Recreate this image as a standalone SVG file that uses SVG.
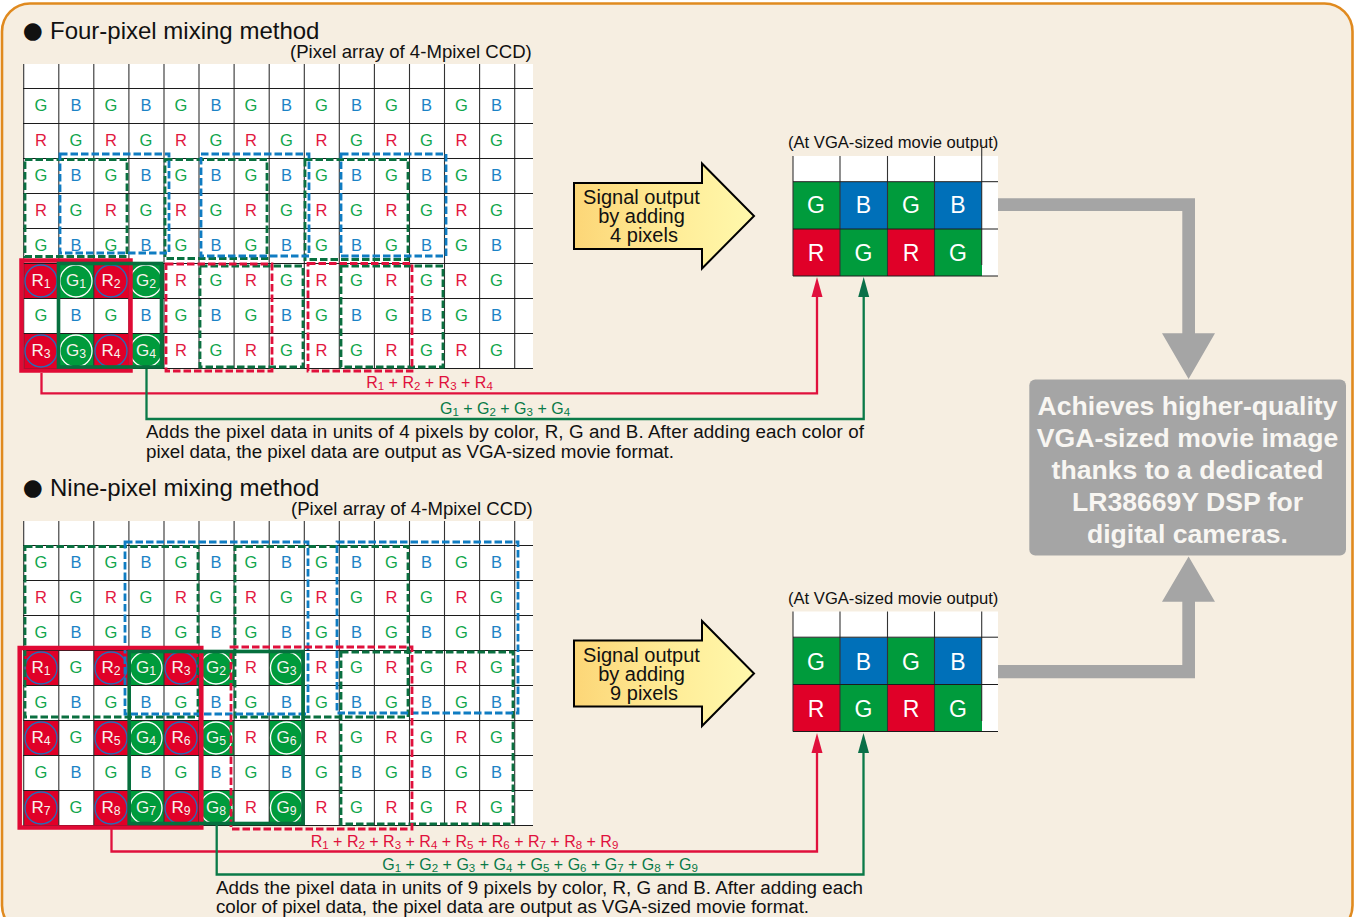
<svg xmlns="http://www.w3.org/2000/svg" width="1354" height="917" viewBox="0 0 1354 917">
<style>
text{font-family:"Liberation Sans",Arial,sans-serif}
.g,.b,.r,.w{font-size:16.5px;text-anchor:middle}
.g{fill:#10a64c}.b{fill:#1c83c6}.r{fill:#e2173f}.w{fill:#f7f3ee;font-size:17px}
.o{font-size:23px;text-anchor:middle;fill:#fff}
.sub{font-size:.72em;baseline-shift:-2px}
.gl{stroke:#1c1c1c;stroke-width:1;fill:none}
.vl{stroke:#333;stroke-width:1.1;fill:none}
.fr{fill:#e00028}.fg{fill:#009b3c}.fb{fill:#0070b9}.fw{fill:#fff}
.cr{fill:none;stroke:#1f70bd;stroke-width:1.3}
.cg{fill:none;stroke:#fff;stroke-width:1.3}
.dg,.db,.dr{fill:none;stroke-width:2.8;stroke-dasharray:7.5 3}
.dg{stroke:#0a7040}.db{stroke:#0f7cc2}.dr{stroke:#e0103c}
.sr{fill:none;stroke:#e00a35;stroke-width:4.5}
.sg{fill:none;stroke:#06703e;stroke-width:3.6}
.cnr{fill:none;stroke:#e0103c;stroke-width:2.3}
.cng{fill:none;stroke:#0a7a48;stroke-width:2.3}
.lr{font-size:16px;fill:#e0103c;text-anchor:middle}
.lg{font-size:16px;fill:#0a7a48;text-anchor:middle}
.t{font-size:24px;fill:#111}
.bu{font-size:23px;fill:#111;font-family:"DejaVu Sans",sans-serif}
.n{font-size:18.6px;fill:#111}
.m{font-size:16.6px;fill:#111}
.d{font-size:18.8px;fill:#111}
.a{font-size:20px;fill:#111;text-anchor:middle}
.big{fill:url(#yel);stroke:#000;stroke-width:2}
.q{font-size:26.6px;font-weight:bold;fill:#f8f6f2;text-anchor:middle}
</style>
<defs>
<linearGradient id="yel" x1="0" y1="0" x2="1" y2="0"><stop offset="0" stop-color="#fcd677"/><stop offset=".6" stop-color="#ffee9a"/><stop offset="1" stop-color="#fff8ac"/></linearGradient>
<marker id="ar" markerUnits="userSpaceOnUse" markerWidth="20" markerHeight="12" viewBox="0 0 20 12" refX="0" refY="6" orient="auto"><path d="M0 .5L20 6L0 11.5Z" fill="#e0103c"/></marker>
<marker id="ag" markerUnits="userSpaceOnUse" markerWidth="20" markerHeight="12" viewBox="0 0 20 12" refX="0" refY="6" orient="auto"><path d="M0 .5L20 6L0 11.5Z" fill="#0a7048"/></marker>
</defs>
<rect id="panel" x="2" y="3.5" width="1350.5" height="930" rx="28" ry="28" fill="#f6eee1" stroke="#e08a1f" stroke-width="2.6"/>

<g id="heading-four"><text class="bu" x="22.8" y="37.8">●</text><text class="t" x="50" y="39">Four-pixel mixing method</text><text class="n" x="290" y="58">(Pixel array of 4-Mpixel CCD)</text></g>
<g id="heading-nine"><text class="bu" x="22.8" y="494.8">●</text><text class="t" x="50" y="496">Nine-pixel mixing method</text><text class="n" x="291" y="515">(Pixel array of 4-Mpixel CCD)</text></g>

<g id="pixel-array-four">
<rect class="fw" x="23" y="64" width="510" height="305"/>
<g id="four-highlight-cells">
<rect class="fr" x="24" y="264" width="35" height="35"/><rect class="fg" x="59" y="264" width="35" height="35"/><rect class="fr" x="94" y="264" width="35" height="35"/><rect class="fg" x="129" y="264" width="35" height="35"/>
<rect class="fr" x="24" y="334" width="35" height="35"/><rect class="fg" x="59" y="334" width="35" height="35"/><rect class="fr" x="94" y="334" width="35" height="35"/><rect class="fg" x="129" y="334" width="35" height="35"/>
</g>
<path class="vl" d="M23.7 64V369M58.8 64V369M93.8 64V369M128.9 64V369M164 64V369M199 64V369M234.1 64V369M269.2 64V369M304.3 64V369M339.3 64V369M374.4 64V369M409.5 64V369M444.5 64V369M479.6 64V369M514.7 64V369"/>
<path class="gl" d="M23 88.5H533M23 123.5H533M23 158.5H533M23 193.5H533M23 228.5H533M23 263.5H533M23 298.5H533M23 333.5H533M23 368.5H533"/>
<g id="four-letters" transform="translate(0 -.5)">
<text class="g" x="41" y="111">G</text><text class="b" x="76" y="111">B</text><text class="g" x="111" y="111">G</text><text class="b" x="146" y="111">B</text><text class="g" x="181" y="111">G</text><text class="b" x="216" y="111">B</text><text class="g" x="251" y="111">G</text><text class="b" x="286.5" y="111">B</text><text class="g" x="321.5" y="111">G</text><text class="b" x="356.5" y="111">B</text><text class="g" x="391.5" y="111">G</text><text class="b" x="426.5" y="111">B</text><text class="g" x="461.5" y="111">G</text><text class="b" x="496.5" y="111">B</text>
<text class="r" x="41" y="146">R</text><text class="g" x="76" y="146">G</text><text class="r" x="111" y="146">R</text><text class="g" x="146" y="146">G</text><text class="r" x="181" y="146">R</text><text class="g" x="216" y="146">G</text><text class="r" x="251" y="146">R</text><text class="g" x="286.5" y="146">G</text><text class="r" x="321.5" y="146">R</text><text class="g" x="356.5" y="146">G</text><text class="r" x="391.5" y="146">R</text><text class="g" x="426.5" y="146">G</text><text class="r" x="461.5" y="146">R</text><text class="g" x="496.5" y="146">G</text>
<text class="g" x="41" y="181">G</text><text class="b" x="76" y="181">B</text><text class="g" x="111" y="181">G</text><text class="b" x="146" y="181">B</text><text class="g" x="181" y="181">G</text><text class="b" x="216" y="181">B</text><text class="g" x="251" y="181">G</text><text class="b" x="286.5" y="181">B</text><text class="g" x="321.5" y="181">G</text><text class="b" x="356.5" y="181">B</text><text class="g" x="391.5" y="181">G</text><text class="b" x="426.5" y="181">B</text><text class="g" x="461.5" y="181">G</text><text class="b" x="496.5" y="181">B</text>
<text class="r" x="41" y="216">R</text><text class="g" x="76" y="216">G</text><text class="r" x="111" y="216">R</text><text class="g" x="146" y="216">G</text><text class="r" x="181" y="216">R</text><text class="g" x="216" y="216">G</text><text class="r" x="251" y="216">R</text><text class="g" x="286.5" y="216">G</text><text class="r" x="321.5" y="216">R</text><text class="g" x="356.5" y="216">G</text><text class="r" x="391.5" y="216">R</text><text class="g" x="426.5" y="216">G</text><text class="r" x="461.5" y="216">R</text><text class="g" x="496.5" y="216">G</text>
<text class="g" x="41" y="251">G</text><text class="b" x="76" y="251">B</text><text class="g" x="111" y="251">G</text><text class="b" x="146" y="251">B</text><text class="g" x="181" y="251">G</text><text class="b" x="216" y="251">B</text><text class="g" x="251" y="251">G</text><text class="b" x="286.5" y="251">B</text><text class="g" x="321.5" y="251">G</text><text class="b" x="356.5" y="251">B</text><text class="g" x="391.5" y="251">G</text><text class="b" x="426.5" y="251">B</text><text class="g" x="461.5" y="251">G</text><text class="b" x="496.5" y="251">B</text>
<text class="r" x="181" y="286">R</text><text class="g" x="216" y="286">G</text><text class="r" x="251" y="286">R</text><text class="g" x="286.5" y="286">G</text><text class="r" x="321.5" y="286">R</text><text class="g" x="356.5" y="286">G</text><text class="r" x="391.5" y="286">R</text><text class="g" x="426.5" y="286">G</text><text class="r" x="461.5" y="286">R</text><text class="g" x="496.5" y="286">G</text>
<text class="g" x="41" y="321">G</text><text class="b" x="76" y="321">B</text><text class="g" x="111" y="321">G</text><text class="b" x="146" y="321">B</text><text class="g" x="181" y="321">G</text><text class="b" x="216" y="321">B</text><text class="g" x="251" y="321">G</text><text class="b" x="286.5" y="321">B</text><text class="g" x="321.5" y="321">G</text><text class="b" x="356.5" y="321">B</text><text class="g" x="391.5" y="321">G</text><text class="b" x="426.5" y="321">B</text><text class="g" x="461.5" y="321">G</text><text class="b" x="496.5" y="321">B</text>
<text class="r" x="181" y="356">R</text><text class="g" x="216" y="356">G</text><text class="r" x="251" y="356">R</text><text class="g" x="286.5" y="356">G</text><text class="r" x="321.5" y="356">R</text><text class="g" x="356.5" y="356">G</text><text class="r" x="391.5" y="356">R</text><text class="g" x="426.5" y="356">G</text><text class="r" x="461.5" y="356">R</text><text class="g" x="496.5" y="356">G</text>
</g>
<g id="four-circles">
<circle class="cr" cx="41" cy="281" r="16"/><circle class="cg" cx="76" cy="281" r="16"/><circle class="cr" cx="111" cy="281" r="16"/><circle class="cg" cx="146" cy="281" r="16"/>
<circle class="cr" cx="41" cy="351" r="16"/><circle class="cg" cx="76" cy="351" r="16"/><circle class="cr" cx="111" cy="351" r="16"/><circle class="cg" cx="146" cy="351" r="16"/>
<text class="w" x="41" y="285.5">R<tspan class="sub">1</tspan></text><text class="w" x="76" y="285.5">G<tspan class="sub">1</tspan></text><text class="w" x="111" y="285.5">R<tspan class="sub">2</tspan></text><text class="w" x="146" y="285.5">G<tspan class="sub">2</tspan></text>
<text class="w" x="41" y="355.5">R<tspan class="sub">3</tspan></text><text class="w" x="76" y="355.5">G<tspan class="sub">3</tspan></text><text class="w" x="111" y="355.5">R<tspan class="sub">4</tspan></text><text class="w" x="146" y="355.5">G<tspan class="sub">4</tspan></text>
</g>
<g id="four-dashed-groups">
<rect class="dg" x="25" y="159.5" width="102" height="97"/><rect class="dg" x="165" y="159.5" width="102" height="99"/><rect class="dg" x="305" y="159.5" width="103" height="100"/>
<rect class="db" x="60" y="154" width="109" height="99"/><rect class="db" x="201" y="154" width="108" height="102"/><rect class="db" x="341" y="154" width="105" height="102"/>
<rect class="dg" x="200" y="266" width="103" height="101"/><rect class="dg" x="341" y="266" width="102" height="101"/>
<rect class="dr" x="166" y="264" width="106" height="107"/><rect class="dr" x="308" y="263.5" width="104" height="107.5"/>
</g>
<rect class="sr" x="21.5" y="260.5" width="109" height="110"/>
<rect class="sg" x="58.5" y="263.5" width="103" height="103.5"/>
</g>

<g id="pixel-array-nine">
<rect class="fw" x="23" y="521" width="510" height="305"/>
<g id="nine-highlight-cells">
<rect class="fr" x="24" y="651" width="35" height="35"/><rect class="fr" x="94" y="651" width="35" height="35"/><rect class="fg" x="129" y="651" width="35" height="35"/><rect class="fr" x="164" y="651" width="35" height="35"/><rect class="fg" x="199" y="651" width="35" height="35"/><rect class="fg" x="269" y="651" width="35" height="35"/>
<rect class="fr" x="24" y="721" width="35" height="35"/><rect class="fr" x="94" y="721" width="35" height="35"/><rect class="fg" x="129" y="721" width="35" height="35"/><rect class="fr" x="164" y="721" width="35" height="35"/><rect class="fg" x="199" y="721" width="35" height="35"/><rect class="fg" x="269" y="721" width="35" height="35"/>
<rect class="fr" x="24" y="791" width="35" height="35"/><rect class="fr" x="94" y="791" width="35" height="35"/><rect class="fg" x="129" y="791" width="35" height="35"/><rect class="fr" x="164" y="791" width="35" height="35"/><rect class="fg" x="199" y="791" width="35" height="35"/><rect class="fg" x="269" y="791" width="35" height="35"/>
</g>
<path class="vl" d="M23.7 521V826M58.8 521V826M93.8 521V826M128.9 521V826M164 521V826M199 521V826M234.1 521V826M269.2 521V826M304.3 521V826M339.3 521V826M374.4 521V826M409.5 521V826M444.5 521V826M479.6 521V826M514.7 521V826"/>
<path class="gl" d="M23 545.5H533M23 580.5H533M23 615.5H533M23 650.5H533M23 685.5H533M23 720.5H533M23 755.5H533M23 790.5H533M23 825.5H533"/>
<g id="nine-letters" transform="translate(0 -.5)">
<text class="g" x="41" y="568.5">G</text><text class="b" x="76" y="568.5">B</text><text class="g" x="111" y="568.5">G</text><text class="b" x="146" y="568.5">B</text><text class="g" x="181" y="568.5">G</text><text class="b" x="216" y="568.5">B</text><text class="g" x="251" y="568.5">G</text><text class="b" x="286.5" y="568.5">B</text><text class="g" x="321.5" y="568.5">G</text><text class="b" x="356.5" y="568.5">B</text><text class="g" x="391.5" y="568.5">G</text><text class="b" x="426.5" y="568.5">B</text><text class="g" x="461.5" y="568.5">G</text><text class="b" x="496.5" y="568.5">B</text>
<text class="r" x="41" y="603.5">R</text><text class="g" x="76" y="603.5">G</text><text class="r" x="111" y="603.5">R</text><text class="g" x="146" y="603.5">G</text><text class="r" x="181" y="603.5">R</text><text class="g" x="216" y="603.5">G</text><text class="r" x="251" y="603.5">R</text><text class="g" x="286.5" y="603.5">G</text><text class="r" x="321.5" y="603.5">R</text><text class="g" x="356.5" y="603.5">G</text><text class="r" x="391.5" y="603.5">R</text><text class="g" x="426.5" y="603.5">G</text><text class="r" x="461.5" y="603.5">R</text><text class="g" x="496.5" y="603.5">G</text>
<text class="g" x="41" y="638.5">G</text><text class="b" x="76" y="638.5">B</text><text class="g" x="111" y="638.5">G</text><text class="b" x="146" y="638.5">B</text><text class="g" x="181" y="638.5">G</text><text class="b" x="216" y="638.5">B</text><text class="g" x="251" y="638.5">G</text><text class="b" x="286.5" y="638.5">B</text><text class="g" x="321.5" y="638.5">G</text><text class="b" x="356.5" y="638.5">B</text><text class="g" x="391.5" y="638.5">G</text><text class="b" x="426.5" y="638.5">B</text><text class="g" x="461.5" y="638.5">G</text><text class="b" x="496.5" y="638.5">B</text>
<text class="g" x="76" y="673.5">G</text><text class="r" x="251" y="673.5">R</text><text class="r" x="321.5" y="673.5">R</text><text class="g" x="356.5" y="673.5">G</text><text class="r" x="391.5" y="673.5">R</text><text class="g" x="426.5" y="673.5">G</text><text class="r" x="461.5" y="673.5">R</text><text class="g" x="496.5" y="673.5">G</text>
<text class="g" x="41" y="708.5">G</text><text class="b" x="76" y="708.5">B</text><text class="g" x="111" y="708.5">G</text><text class="b" x="146" y="708.5">B</text><text class="g" x="181" y="708.5">G</text><text class="b" x="216" y="708.5">B</text><text class="g" x="251" y="708.5">G</text><text class="b" x="286.5" y="708.5">B</text><text class="g" x="321.5" y="708.5">G</text><text class="b" x="356.5" y="708.5">B</text><text class="g" x="391.5" y="708.5">G</text><text class="b" x="426.5" y="708.5">B</text><text class="g" x="461.5" y="708.5">G</text><text class="b" x="496.5" y="708.5">B</text>
<text class="g" x="76" y="743.5">G</text><text class="r" x="251" y="743.5">R</text><text class="r" x="321.5" y="743.5">R</text><text class="g" x="356.5" y="743.5">G</text><text class="r" x="391.5" y="743.5">R</text><text class="g" x="426.5" y="743.5">G</text><text class="r" x="461.5" y="743.5">R</text><text class="g" x="496.5" y="743.5">G</text>
<text class="g" x="41" y="778.5">G</text><text class="b" x="76" y="778.5">B</text><text class="g" x="111" y="778.5">G</text><text class="b" x="146" y="778.5">B</text><text class="g" x="181" y="778.5">G</text><text class="b" x="216" y="778.5">B</text><text class="g" x="251" y="778.5">G</text><text class="b" x="286.5" y="778.5">B</text><text class="g" x="321.5" y="778.5">G</text><text class="b" x="356.5" y="778.5">B</text><text class="g" x="391.5" y="778.5">G</text><text class="b" x="426.5" y="778.5">B</text><text class="g" x="461.5" y="778.5">G</text><text class="b" x="496.5" y="778.5">B</text>
<text class="g" x="76" y="813.5">G</text><text class="r" x="251" y="813.5">R</text><text class="r" x="321.5" y="813.5">R</text><text class="g" x="356.5" y="813.5">G</text><text class="r" x="391.5" y="813.5">R</text><text class="g" x="426.5" y="813.5">G</text><text class="r" x="461.5" y="813.5">R</text><text class="g" x="496.5" y="813.5">G</text>
</g>
<g id="nine-circles">
<circle class="cr" cx="41" cy="668" r="16"/><circle class="cr" cx="111" cy="668" r="16"/><circle class="cg" cx="146" cy="668" r="16"/><circle class="cr" cx="181" cy="668" r="16"/><circle class="cg" cx="216" cy="668" r="16"/><circle class="cg" cx="286.5" cy="668" r="16"/>
<circle class="cr" cx="41" cy="738" r="16"/><circle class="cr" cx="111" cy="738" r="16"/><circle class="cg" cx="146" cy="738" r="16"/><circle class="cr" cx="181" cy="738" r="16"/><circle class="cg" cx="216" cy="738" r="16"/><circle class="cg" cx="286.5" cy="738" r="16"/>
<circle class="cr" cx="41" cy="808" r="16"/><circle class="cr" cx="111" cy="808" r="16"/><circle class="cg" cx="146" cy="808" r="16"/><circle class="cr" cx="181" cy="808" r="16"/><circle class="cg" cx="216" cy="808" r="16"/><circle class="cg" cx="286.5" cy="808" r="16"/>
<text class="w" x="41" y="673">R<tspan class="sub">1</tspan></text><text class="w" x="111" y="673">R<tspan class="sub">2</tspan></text><text class="w" x="146" y="673">G<tspan class="sub">1</tspan></text><text class="w" x="181" y="673">R<tspan class="sub">3</tspan></text><text class="w" x="216" y="673">G<tspan class="sub">2</tspan></text><text class="w" x="286.5" y="673">G<tspan class="sub">3</tspan></text>
<text class="w" x="41" y="743">R<tspan class="sub">4</tspan></text><text class="w" x="111" y="743">R<tspan class="sub">5</tspan></text><text class="w" x="146" y="743">G<tspan class="sub">4</tspan></text><text class="w" x="181" y="743">R<tspan class="sub">6</tspan></text><text class="w" x="216" y="743">G<tspan class="sub">5</tspan></text><text class="w" x="286.5" y="743">G<tspan class="sub">6</tspan></text>
<text class="w" x="41" y="813">R<tspan class="sub">7</tspan></text><text class="w" x="111" y="813">R<tspan class="sub">8</tspan></text><text class="w" x="146" y="813">G<tspan class="sub">7</tspan></text><text class="w" x="181" y="813">R<tspan class="sub">9</tspan></text><text class="w" x="216" y="813">G<tspan class="sub">8</tspan></text><text class="w" x="286.5" y="813">G<tspan class="sub">9</tspan></text>
</g>
<g id="nine-dashed-groups">
<rect class="dg" x="25" y="546.5" width="173" height="170.5"/><rect class="dg" x="235" y="546.5" width="173" height="170.5"/><rect class="dg" x="341" y="652" width="172" height="172"/>
<rect class="db" x="125" y="542" width="183" height="172"/><rect class="db" x="337" y="542" width="181" height="171"/>
<rect class="dr" x="231" y="647" width="181" height="182"/>
</g>
<rect class="sr" x="19.7" y="648" width="181.6" height="179.5"/>
<rect class="sg" x="129.2" y="651.5" width="173.8" height="172"/>
</g>

<g id="signal-arrow-four"><path class="big" d="M574 183H702V163.5L754 216L702 268.5V249H574Z"/><text class="a" x="641.5" y="204">Signal output</text><text class="a" x="641.5" y="223">by adding</text><text class="a" x="644" y="242">4 pixels</text></g>
<g id="signal-arrow-nine"><path class="big" d="M574 640.5H702V621L754 673.5L702 726V706.5H574Z"/><text class="a" x="641.5" y="661.5">Signal output</text><text class="a" x="641.5" y="680.5">by adding</text><text class="a" x="644" y="699.5">9 pixels</text></g>

<g id="vga-output-four">
<text class="m" x="788" y="147.5">(At VGA-sized movie output)</text>
<rect class="fw" x="793" y="156" width="205" height="120"/>
<rect class="fg" x="793" y="182" width="47" height="47"/><rect class="fb" x="840" y="182" width="47.5" height="47"/><rect class="fg" x="887.5" y="182" width="47" height="47"/><rect class="fb" x="934.5" y="182" width="47.5" height="47"/>
<rect class="fr" x="793" y="229" width="47" height="47"/><rect class="fg" x="840" y="229" width="47.5" height="47"/><rect class="fr" x="887.5" y="229" width="47" height="47"/><rect class="fg" x="934.5" y="229" width="47.5" height="47"/>
<path class="vl" d="M793 156V276M840 156V276M887.5 156V276M934.5 156V276M981.7 145V265"/>
<path class="gl" d="M793 181.7H998M793 229H998M793 276H998"/>
<text class="o" x="816" y="213">G</text><text class="o" x="863.5" y="213">B</text><text class="o" x="911" y="213">G</text><text class="o" x="958" y="213">B</text>
<text class="o" x="816" y="260.5">R</text><text class="o" x="863.5" y="260.5">G</text><text class="o" x="911" y="260.5">R</text><text class="o" x="958" y="260.5">G</text>
</g>
<g id="vga-output-nine">
<text class="m" x="788" y="604">(At VGA-sized movie output)</text>
<rect class="fw" x="793" y="611.5" width="205" height="120"/>
<rect class="fg" x="793" y="637.5" width="47" height="47"/><rect class="fb" x="840" y="637.5" width="47.5" height="47"/><rect class="fg" x="887.5" y="637.5" width="47" height="47"/><rect class="fb" x="934.5" y="637.5" width="47.5" height="47"/>
<rect class="fr" x="793" y="684.5" width="47" height="47"/><rect class="fg" x="840" y="684.5" width="47.5" height="47"/><rect class="fr" x="887.5" y="684.5" width="47" height="47"/><rect class="fg" x="934.5" y="684.5" width="47.5" height="47"/>
<path class="vl" d="M793 611.5V731.5M840 611.5V731.5M887.5 611.5V731.5M934.5 611.5V731.5M981.7 611.5V721"/>
<path class="gl" d="M793 637.2H998M793 684.5H998M793 731.5H998"/>
<text class="o" x="816" y="669.5">G</text><text class="o" x="863.5" y="669.5">B</text><text class="o" x="911" y="669.5">G</text><text class="o" x="958" y="669.5">B</text>
<text class="o" x="816" y="716.5">R</text><text class="o" x="863.5" y="716.5">G</text><text class="o" x="911" y="716.5">R</text><text class="o" x="958" y="716.5">G</text>
</g>

<g id="connectors">
<path class="cnr" marker-end="url(#ar)" d="M41.5 373V393.3H817V297"/>
<path class="cng" marker-end="url(#ag)" d="M146.5 369V419H863.7V297"/>
<path class="cnr" marker-end="url(#ar)" d="M111.5 829V851.5H817V753"/>
<path class="cng" marker-end="url(#ag)" d="M216.7 825V874.5H863.5V753"/>
<path fill="#a5a5a5" d="M998 198.3H1195V333.3H1215L1188.6 379L1162 333.3H1182.3V211H998Z"/>
<path fill="#a5a5a5" d="M998 678.3H1195V601.7H1215L1188.6 556.5L1162 601.7H1182.3V665H998Z"/>
</g>

<g id="connector-labels">
<text class="lr" x="429.5" y="388">R<tspan class="sub">1</tspan> + R<tspan class="sub">2</tspan> + R<tspan class="sub">3</tspan> + R<tspan class="sub">4</tspan></text>
<text class="lg" x="505" y="414">G<tspan class="sub">1</tspan> + G<tspan class="sub">2</tspan> + G<tspan class="sub">3</tspan> + G<tspan class="sub">4</tspan></text>
<text class="lr" x="464.5" y="846.5">R<tspan class="sub">1</tspan> + R<tspan class="sub">2</tspan> + R<tspan class="sub">3</tspan> + R<tspan class="sub">4</tspan> + R<tspan class="sub">5</tspan> + R<tspan class="sub">6</tspan> + R<tspan class="sub">7</tspan> + R<tspan class="sub">8</tspan> + R<tspan class="sub">9</tspan></text>
<text class="lg" x="540" y="870">G<tspan class="sub">1</tspan> + G<tspan class="sub">2</tspan> + G<tspan class="sub">3</tspan> + G<tspan class="sub">4</tspan> + G<tspan class="sub">5</tspan> + G<tspan class="sub">6</tspan> + G<tspan class="sub">7</tspan> + G<tspan class="sub">8</tspan> + G<tspan class="sub">9</tspan></text>
</g>

<g id="desc-four"><text class="d" x="146" y="437.5" textLength="718">Adds the pixel data in units of 4 pixels by color, R, G and B. After adding each color of</text><text class="d" x="146" y="457.5" textLength="528">pixel data, the pixel data are output as VGA-sized movie format.</text></g>
<g id="desc-nine"><text class="d" x="216" y="893.5" textLength="647">Adds the pixel data in units of 9 pixels by color, R, G and B. After adding each</text><text class="d" x="216" y="913" textLength="593">color of pixel data, the pixel data are output as VGA-sized movie format.</text></g>

<g id="result-box">
<rect x="1029.3" y="379.5" width="316.7" height="176" rx="6" fill="#a5a5a5"/>
<text class="q" x="1187.5" y="415">Achieves higher-quality</text>
<text class="q" x="1187.5" y="447">VGA-sized movie image</text>
<text class="q" x="1187.5" y="479">thanks to a dedicated</text>
<text class="q" x="1187.5" y="511">LR38669Y DSP for</text>
<text class="q" x="1187.5" y="543">digital cameras.</text>
</g>
</svg>
